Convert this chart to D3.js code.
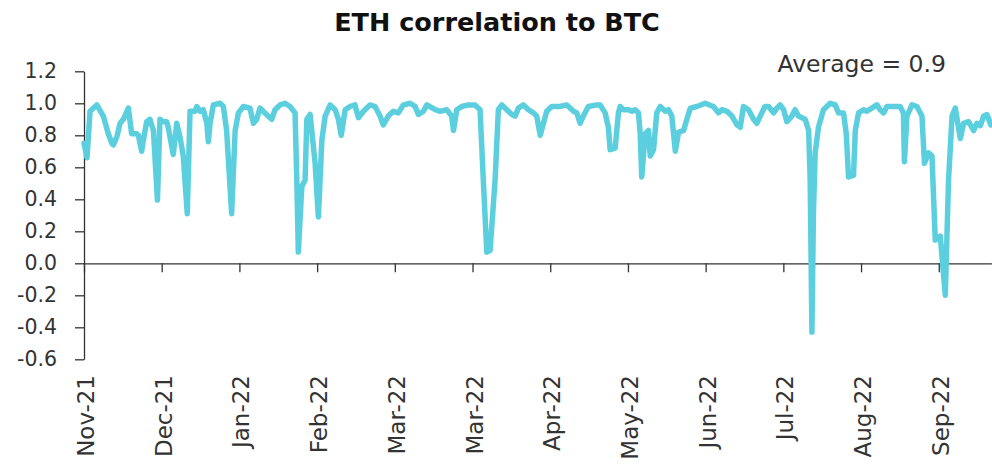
<!DOCTYPE html>
<html><head><meta charset="utf-8">
<script src="https://cdn.jsdelivr.net/npm/d3@7"></script>
<style>body{margin:0;background:#fff}</style>
</head><body><svg id="c" width="992" height="468"></svg>
<script>
const title = "ETH correlation to BTC";
const note = "Average = 0.9";
const tickLabels = ["Nov-21","Dec-21","Jan-22","Feb-22","Mar-22","Mar-22","Apr-22","May-22","Jun-22","Jul-22","Aug-22","Sep-22"];
const tickStep = 31;       // days between labelled ticks
const dayCount = 362;
const yTicks = [1.2,1.0,0.8,0.6,0.4,0.2,0.0,-0.2,-0.4,-0.6];
const days = [0,1.2,2.4,5.1,7.7,9.7,11.1,11.7,13.1,14.4,15.7,17.7,19.0,21.0,21.7,23.0,23.7,25.0,26.3,27.7,29.3,30.3,31.6,33.0,33.6,35.6,37.0,38.3,39.6,41.2,42.3,44.3,45.0,46.3,47.6,49.0,49.6,50.3,51.6,54.3,55.6,56.9,58.9,60.3,61.6,63.6,66.2,67.6,68.9,70.2,72.2,73.5,74.9,76.2,78.2,80.2,82.2,84.2,84.9,85.5,86.9,88.2,88.9,90.2,92.2,93.5,94.9,96.2,98.2,100.2,101.5,102.6,104.2,106.1,108.1,109.5,111.5,114.1,116.1,118.1,119.4,121.4,123.4,125.4,127.4,130.1,132.1,133.4,135.4,136.8,140.1,142.1,144.7,146.7,147.4,148.7,150.7,153.4,156.0,158.0,159.3,160.7,162.0,164.0,165.3,166.7,168.7,170.7,172.0,173.3,175.3,177.3,179.3,180.6,182.0,183.3,184.6,186.6,189.9,192.6,195.3,196.6,197.9,199.2,201.2,204.6,205.9,207.9,209.2,209.9,211.9,213.2,213.9,215.2,217.2,218.6,219.9,221.2,221.9,222.5,223.9,225.2,225.9,227.2,228.5,229.9,231.9,233.2,234.5,235.9,237.2,239.2,240.5,241.9,244.5,247.8,251.1,253.1,254.5,256.5,258.5,260.5,261.8,263.1,265.1,267.1,268.4,270.4,271.7,273.1,275.1,276.4,277.7,279.1,280.4,282.4,283.7,285.0,286.4,287.7,289.1,289.7,290.4,291.0,291.7,293.0,295.0,297.7,299.7,301.0,303.0,304.1,305.0,307.0,307.7,309.0,311.0,312.3,314.3,316.3,317.6,319.0,320.3,323.0,325.6,326.9,327.3,328.3,330.3,332.3,334.3,335.3,336.9,338.3,339.6,341.6,343.6,344.9,346.3,347.6,349.6,350.9,352.9,354.9,356.2,357.6,358.9,360.2,361.8];
const corr = [0.75,0.66,0.95,0.99,0.92,0.81,0.75,0.74,0.79,0.875,0.90,0.97,0.81,0.81,0.80,0.70,0.77,0.885,0.90,0.83,0.395,0.90,0.885,0.885,0.85,0.68,0.875,0.79,0.67,0.31,0.95,0.95,0.98,0.95,0.96,0.875,0.76,0.875,0.99,1.0,0.98,0.83,0.31,0.83,0.94,0.98,0.97,0.875,0.90,0.97,0.94,0.92,0.90,0.96,0.99,1.0,0.98,0.94,0.52,0.07,0.48,0.52,0.90,0.93,0.625,0.29,0.77,0.92,0.99,0.96,0.90,0.80,0.96,0.98,0.99,0.91,0.95,0.99,0.98,0.92,0.865,0.92,0.95,0.94,0.99,1.0,0.98,0.93,0.95,0.99,0.96,0.95,0.96,0.92,0.83,0.96,0.98,0.99,0.99,0.96,0.52,0.07,0.08,0.52,0.96,0.99,0.96,0.93,0.92,0.97,0.99,0.96,0.94,0.92,0.80,0.875,0.95,0.98,0.98,0.99,0.95,0.94,0.875,0.92,0.98,0.99,0.99,0.94,0.85,0.71,0.72,0.94,0.98,0.96,0.96,0.95,0.96,0.94,0.81,0.54,0.81,0.83,0.67,0.71,0.94,0.98,0.95,0.96,0.92,0.70,0.82,0.83,0.90,0.97,0.98,1.0,0.98,0.94,0.96,0.95,0.92,0.865,0.85,0.98,0.96,0.90,0.875,0.94,0.98,0.98,0.94,0.97,0.99,0.96,0.885,0.92,0.96,0.92,0.91,0.90,0.83,0.52,-0.43,0.31,0.69,0.85,0.96,1.0,0.99,0.94,0.94,0.81,0.54,0.55,0.83,0.94,0.96,0.95,0.97,0.99,0.96,0.94,0.98,0.98,0.98,0.94,0.635,0.92,0.99,0.98,0.92,0.625,0.69,0.67,0.145,0.17,-0.2,0.52,0.92,0.97,0.78,0.875,0.885,0.83,0.875,0.86,0.92,0.93,0.865];

const svg = d3.select("#c");
const textColor = "#333";
const font = "'DejaVu Sans', sans-serif";

const x = d3.scaleLinear().domain([0, dayCount]).range([84, 991.4]);
const y = d3.scaleLinear().domain([-0.6, 1.2]).range([359.3, 71.3]);

// title
svg.append("text").attr("x", 497).attr("y", 31).attr("text-anchor", "middle")
  .attr("font-family", font).attr("font-weight", "bold").attr("font-size", 25.5)
  .attr("fill", "#111").text(title);

// y axis
const yAxis = svg.append("g").attr("transform", `translate(${x(0)},0)`)
  .call(d3.axisLeft(y).tickValues(yTicks).tickSize(9).tickSizeOuter(0).tickPadding(18)
    .tickFormat(d => d.toFixed(1)));
yAxis.select(".domain").attr("stroke", "#333").attr("stroke-width", 1.3);
yAxis.selectAll(".tick line").attr("stroke", "#333").attr("stroke-width", 1.3);
yAxis.selectAll(".tick text").attr("font-family", font).attr("font-size", 20.5).attr("fill", textColor);

// x axis at zero
const xTickVals = tickLabels.map((_, i) => i * tickStep);
const xAxis = svg.append("g").attr("transform", `translate(0,${y(0)})`)
  .call(d3.axisBottom(x).tickValues(xTickVals).tickSize(9).tickSizeOuter(0).tickFormat(""));
xAxis.select(".domain").attr("stroke", "#333").attr("stroke-width", 1.3);
xAxis.selectAll(".tick line").attr("stroke", "#333").attr("stroke-width", 1.3);

svg.append("g").selectAll("text").data(tickLabels).join("text")
  .attr("transform", (d, i) => `translate(${x(xTickVals[i]) + 2},375) rotate(-90)`)
  .attr("text-anchor", "end").attr("dominant-baseline", "central")
  .attr("font-family", font).attr("font-size", 23).attr("fill", textColor)
  .text(d => d);

// line
const pts = days.map((d, i) => [d, corr[i]]);
svg.append("path").datum(pts)
  .attr("fill", "none").attr("stroke", "#5ccfdf").attr("stroke-width", 5.5)
  .attr("stroke-linejoin", "round").attr("stroke-linecap", "round")
  .attr("d", d3.line().x(d => x(d[0])).y(d => y(d[1])));

// annotation
svg.append("text").attr("x", 946).attr("y", 72).attr("text-anchor", "end")
  .attr("font-family", font).attr("font-size", 23.5).attr("fill", textColor).text(note);
</script></body></html>
